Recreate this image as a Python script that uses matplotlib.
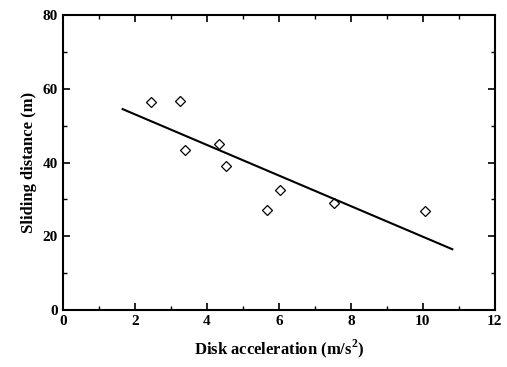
import matplotlib
matplotlib.use("Agg")
from matplotlib import pyplot as plt
from matplotlib.ticker import MultipleLocator

# measured points
accel = [2.44, 3.25, 3.40, 4.33, 4.54, 5.66, 6.02, 7.53, 10.05]  # m/s^2
distance = [56.5, 56.7, 43.4, 45.0, 39.2, 27.2, 32.5, 29.0, 26.8]  # m

# fitted line end points
fit_x = [1.66, 10.82]
fit_y = [54.5, 16.5]

plt.rcParams["font.family"] = ["Liberation Serif", "DejaVu Serif"]
plt.rcParams["font.weight"] = "bold"
plt.rcParams["mathtext.fontset"] = "custom"
plt.rcParams["mathtext.rm"] = "Liberation Serif:bold"
plt.rcParams["mathtext.bf"] = "Liberation Serif:bold"

fig = plt.figure(figsize=(5.07, 3.67), dpi=100)
ax = fig.add_axes([0.124, 0.155, 0.852, 0.804])

ax.plot(accel, distance, linestyle="none", marker="D", markersize=5.5,
        markerfacecolor="white", markeredgecolor="black", markeredgewidth=0.9)
ax.plot(fit_x, fit_y, color="black", linewidth=1.5)

ax.set_xlim(0, 12)
ax.set_ylim(0, 80)
ax.xaxis.set_major_locator(MultipleLocator(2))
ax.xaxis.set_minor_locator(MultipleLocator(1))
ax.yaxis.set_major_locator(MultipleLocator(20))
ax.yaxis.set_minor_locator(MultipleLocator(10))
ax.tick_params(which="both", direction="in", top=True, right=True, labelsize=11)
ax.tick_params(which="major", length=5, width=1.2)
ax.tick_params(which="minor", length=3, width=1.0)
for s in ax.spines.values():
    s.set_linewidth(1.5)

ax.set_xlabel("Disk acceleration (m/s$^{\\mathbf{2}}$)", fontsize=12,
              fontweight="bold", labelpad=7)
ax.set_ylabel("Sliding distance (m)", fontsize=12, fontweight="bold")

fig.savefig("out.png", dpi=100)
